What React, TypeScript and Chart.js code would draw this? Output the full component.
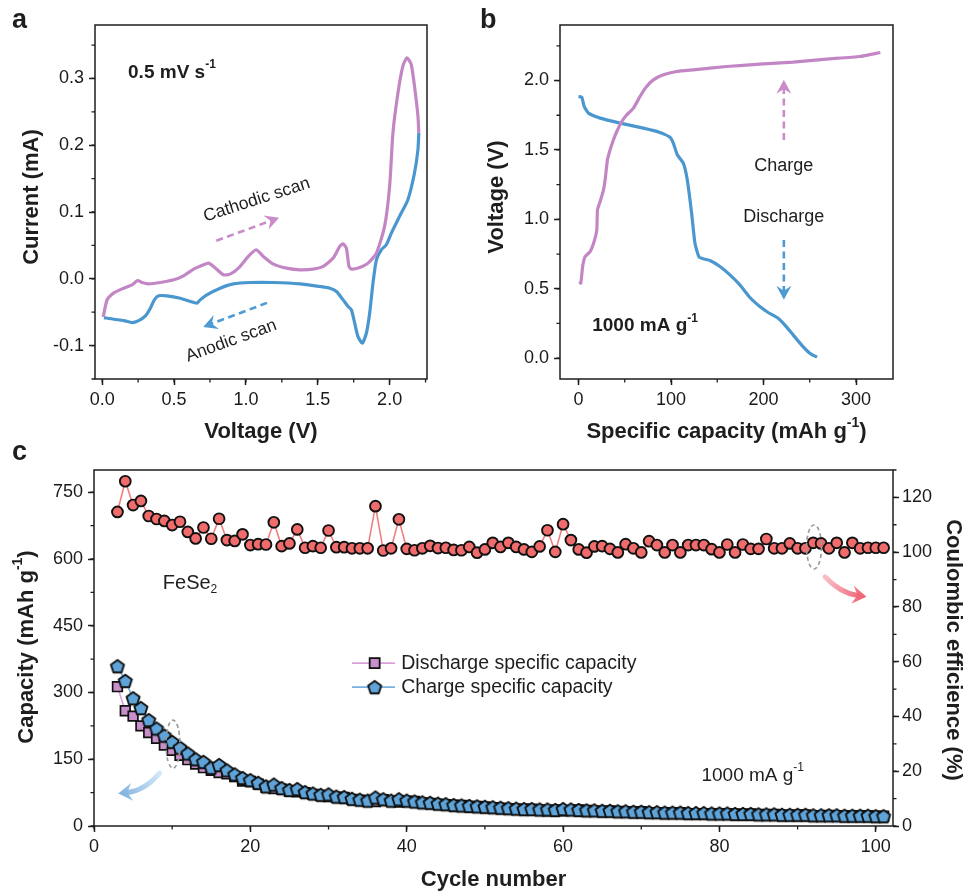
import React, { useEffect, useRef } from 'react';
import { Chart, registerables } from 'chart.js';

Chart.register(...registerables);

const FONT = "'Liberation Sans', Arial, Helvetica, sans-serif";
const INK = '#1e1e1e';
const CV_PINK = '#c386c5';
const CV_BLUE = '#4a97cf';

// ---------------- Panel a : cyclic voltammetry ----------------
const cvUpperV = [0.007, 0.035, 0.081, 0.150, 0.208, 0.247, 0.277, 0.324, 0.405, 0.497, 0.566, 0.636, 0.705, 0.740, 0.775, 0.844, 0.890, 0.948, 1.017, 1.071, 1.121, 1.191, 1.283, 1.376, 1.468, 1.538, 1.607, 1.653, 1.676, 1.699, 1.717, 1.734, 1.792, 1.850, 1.908, 1.965, 2.000, 2.023, 2.058, 2.092, 2.120, 2.150, 2.173, 2.197, 2.203];
const cvUpperI = [-0.057, -0.031, -0.021, -0.014, -0.009, -0.0025, -0.0055, -0.0075, -0.0055, -0.0015, 0.0045, 0.0145, 0.021, 0.0235, 0.0185, 0.006, 0.007, 0.016, 0.0335, 0.0435, 0.0335, 0.022, 0.016, 0.0135, 0.0145, 0.0185, 0.031, 0.0485, 0.0525, 0.046, 0.0185, 0.0145, 0.017, 0.0235, 0.0385, 0.0785, 0.1385, 0.2185, 0.2785, 0.3185, 0.331, 0.321, 0.2885, 0.2435, 0.2185];
const cvLowerV = [2.203, 2.197, 2.173, 2.127, 2.069, 2.012, 1.977, 1.942, 1.908, 1.884, 1.861, 1.838, 1.810, 1.780, 1.757, 1.734, 1.711, 1.676, 1.630, 1.584, 1.514, 1.376, 1.191, 1.029, 0.913, 0.821, 0.728, 0.682, 0.659, 0.613, 0.543, 0.451, 0.393, 0.363, 0.335, 0.301, 0.254, 0.208, 0.150, 0.081, 0.012];
const cvLowerI = [0.2185, 0.1935, 0.1585, 0.1185, 0.0935, 0.0685, 0.051, 0.0435, 0.0285, -0.0065, -0.0515, -0.0815, -0.0965, -0.0865, -0.0665, -0.0465, -0.0415, -0.0315, -0.019, -0.014, -0.0115, -0.0075, -0.0055, -0.0055, -0.0075, -0.014, -0.024, -0.0315, -0.0365, -0.034, -0.029, -0.0255, -0.0255, -0.0315, -0.044, -0.0555, -0.0625, -0.0655, -0.0625, -0.0605, -0.058];
const cvVoltageTicks = [0, 0.5, 1.0, 1.5, 2.0];
const cvCurrentTicks = [-0.1, 0, 0.1, 0.2, 0.3];

// ---------------- Panel b : charge / discharge profiles ----------------
const dischargeCap = [0, 3.6, 6.1, 10.8, 23.4, 45, 70.1, 88.1, 98.9, 102.5, 106.8, 113.3, 117.6, 122.3, 125.9, 130.6, 142.1, 152.9, 163.7, 174.5, 185.3, 196.0, 205.0, 215.8, 223.0, 232.0, 241.0, 250.0, 257.9];
const dischargeVolt = [1.885, 1.880, 1.813, 1.765, 1.729, 1.693, 1.657, 1.626, 1.592, 1.549, 1.465, 1.405, 1.285, 1.044, 0.828, 0.727, 0.703, 0.660, 0.600, 0.528, 0.437, 0.372, 0.329, 0.288, 0.240, 0.168, 0.096, 0.036, 0.007];
const chargeCap = [1.1, 2.5, 4.7, 7.2, 12.6, 16.9, 19.8, 20.5, 23.4, 27.0, 28.8, 31.3, 34.2, 37.8, 41.4, 46.8, 52.2, 59.4, 66.5, 73.0, 80.9, 91.7, 106.1, 124.1, 160.1, 196.0, 232.0, 268.0, 304.0, 326.3];
const chargeVolt = [0.552, 0.540, 0.672, 0.732, 0.768, 0.840, 0.924, 1.068, 1.128, 1.212, 1.285, 1.429, 1.501, 1.573, 1.633, 1.705, 1.753, 1.801, 1.885, 1.952, 2.005, 2.041, 2.065, 2.077, 2.101, 2.118, 2.132, 2.154, 2.173, 2.202];
const gcdCapTicks = [0, 100, 200, 300];
const gcdVoltTicks = [0, 0.5, 1.0, 1.5, 2.0];

// ---------------- Panel c : cycling ----------------
const cycles = [
  3, 4, 5, 6, 7, 8, 9, 10, 11, 12,
  13, 14, 15, 16, 17, 18, 19, 20, 21, 22,
  23, 24, 25, 26, 27, 28, 29, 30, 31, 32,
  33, 34, 35, 36, 37, 38, 39, 40, 41, 42,
  43, 44, 45, 46, 47, 48, 49, 50, 51, 52,
  53, 54, 55, 56, 57, 58, 59, 60, 61, 62,
  63, 64, 65, 66, 67, 68, 69, 70, 71, 72,
  73, 74, 75, 76, 77, 78, 79, 80, 81, 82,
  83, 84, 85, 86, 87, 88, 89, 90, 91, 92,
  93, 94, 95, 96, 97, 98, 99, 100, 101,
];
const coulombicEff = [
  114.7, 125.9, 117.2, 118.7, 113.2, 112.1, 111.4, 109.9, 111.1, 107.4,
  105.0, 109.0, 104.9, 112.2, 104.4, 104.1, 106.5, 102.6, 102.9, 102.8,
  110.9, 102.2, 103.2, 108.3, 101.6, 102.2, 101.6, 107.9, 101.8, 101.8,
  101.4, 101.4, 101.4, 116.8, 100.6, 101.4, 112.0, 101.2, 100.7, 101.4,
  102.3, 101.5, 101.6, 100.8, 100.7, 101.9, 99.8, 101.0, 103.4, 101.9,
  103.4, 101.9, 101.0, 100.1, 102.1, 108.0, 100.1, 110.2, 104.4, 101.0,
  99.8, 102.1, 102.2, 101.2, 99.9, 102.9, 101.4, 99.9, 104.0, 102.6,
  99.9, 102.6, 99.9, 102.6, 102.6, 102.6, 101.1, 99.9, 102.8, 99.9,
  102.8, 101.2, 101.2, 104.8, 101.4, 101.4, 103.2, 101.4, 101.4, 103.4,
  103.2, 101.4, 103.4, 99.9, 103.4, 101.4, 101.6, 101.6, 101.6,
];
const chargeCapacity = [
  359, 326, 287, 265, 238, 219, 203, 189, 176, 163,
  150, 144, 131, 137, 125, 116, 108, 103, 97, 89,
  93, 85, 81, 83, 76, 73, 70, 71, 66, 65,
  61, 59, 57, 64, 60, 57, 60, 57, 55, 53,
  52, 50, 49, 47, 46, 45, 44, 43, 42, 41,
  40, 39, 38, 38, 37, 37, 36, 38, 37, 36,
  35, 35, 34, 34, 33, 33, 32, 32, 31, 31,
  30, 30, 30, 29, 29, 29, 28, 28, 28, 27,
  27, 27, 26, 26, 26, 25, 25, 25, 25, 24,
  24, 24, 24, 23, 23, 23, 23, 22, 22,
];
const dischargeCapacity = [
  313, 259, 247, 225, 210, 197, 182, 170, 159, 149,
  139, 131, 125, 120, 117, 111, 101, 100, 94, 87,
  84, 83, 78, 77, 75, 71, 69, 66, 65, 64,
  60, 58, 56, 55, 59, 56, 54, 56, 55, 52,
  51, 49, 48, 47, 46, 44, 44, 43, 41, 40,
  39, 38, 38, 38, 36, 34, 36, 34, 35, 36,
  35, 34, 33, 34, 33, 32, 32, 32, 30, 30,
  30, 29, 30, 28, 28, 28, 28, 28, 27, 27,
  26, 27, 26, 25, 26, 25, 24, 25, 25, 23,
  23, 24, 23, 23, 22, 23, 23, 22, 22,
];
const cycleTicks = [0, 20, 40, 60, 80, 100];
const capacityTicks = [0, 150, 300, 450, 600, 750];
const ceTicks = [0, 20, 40, 60, 80, 100, 120];

// ---------------- helpers ----------------
type Seg = [string, string?];

function drawRich(ctx: any, segs: Seg[], x: number, y: number, o: any) {
  const size = o.size, weight = o.weight || 'normal';
  ctx.save();
  ctx.translate(x, y);
  if (o.rot) ctx.rotate(o.rot);
  const fontFor = (k?: string) => `${weight} ${k === 'sup' || k === 'sub' ? Math.round(size * 0.62) : size}px ${FONT}`;
  const widths: number[] = [];
  let total = 0;
  for (const s of segs) {
    ctx.font = fontFor(s[1]);
    const w = ctx.measureText(s[0]).width;
    widths.push(w);
    total += w;
  }
  let cx = o.align === 'center' ? -total / 2 : 0;
  ctx.textBaseline = o.baseline || 'middle';
  ctx.textAlign = 'left';
  ctx.fillStyle = o.color || INK;
  segs.forEach((s, i) => {
    ctx.font = fontFor(s[1]);
    const dy = s[1] === 'sup' ? -size * 0.4 : s[1] === 'sub' ? size * 0.3 : 0;
    ctx.fillText(s[0], cx, dy);
    cx += widths[i];
  });
  ctx.restore();
}

function drawFrame(chart: any) {
  const { ctx, chartArea: a } = chart;
  ctx.save();
  ctx.strokeStyle = INK;
  ctx.lineWidth = 1.5;
  ctx.strokeRect(a.left, a.top, a.right - a.left, a.bottom - a.top);
  ctx.restore();
}

function drawMinor(chart: any, id: string, step: number, side: string) {
  const s = chart.scales[id];
  const a = chart.chartArea;
  const ctx = chart.ctx;
  const start = Math.ceil(s.min / step - 1e-9);
  const end = Math.floor(s.max / step + 1e-9);
  ctx.save();
  ctx.strokeStyle = INK;
  ctx.lineWidth = 1.3;
  ctx.beginPath();
  for (let k = start; k <= end; k++) {
    const p = s.getPixelForValue(k * step);
    if (side === 'left') { ctx.moveTo(a.left, p); ctx.lineTo(a.left - 3.5, p); }
    if (side === 'right') { ctx.moveTo(a.right, p); ctx.lineTo(a.right + 3.5, p); }
    if (side === 'bottom') { ctx.moveTo(p, a.bottom); ctx.lineTo(p, a.bottom + 3.5); }
  }
  ctx.stroke();
  ctx.restore();
}

function arrowHead(ctx: any, x1: number, y1: number, ang: number, len: number, half: number) {
  const dx = Math.cos(ang), dy = Math.sin(ang);
  const px = -dy, py = dx;
  const hx = x1 - dx * len, hy = y1 - dy * len;
  ctx.beginPath();
  ctx.moveTo(x1, y1);
  ctx.lineTo(hx + px * half, hy + py * half);
  ctx.lineTo(x1 - dx * len * 0.65, y1 - dy * len * 0.65);
  ctx.lineTo(hx - px * half, hy - py * half);
  ctx.closePath();
  ctx.fill();
}

function dashedArrow(ctx: any, x0: number, y0: number, x1: number, y1: number, color: string) {
  const ang = Math.atan2(y1 - y0, x1 - x0);
  ctx.save();
  ctx.strokeStyle = color;
  ctx.fillStyle = color;
  ctx.lineWidth = 2.6;
  ctx.setLineDash([7, 4.5]);
  ctx.beginPath();
  ctx.moveTo(x0, y0);
  ctx.lineTo(x1 - Math.cos(ang) * 8, y1 - Math.sin(ang) * 8);
  ctx.stroke();
  ctx.setLineDash([]);
  arrowHead(ctx, x1, y1, ang, 14, 7.5);
  ctx.restore();
}

function fatArrow(ctx: any, x0: number, y0: number, cx: number, cy: number, x1: number, y1: number, c0: string, c1: string) {
  const ang = Math.atan2(y1 - cy, x1 - cx);
  const g = ctx.createLinearGradient(x0, y0, x1, y1);
  g.addColorStop(0, c0);
  g.addColorStop(1, c1);
  ctx.save();
  ctx.strokeStyle = g;
  ctx.fillStyle = g;
  ctx.lineWidth = 5;
  ctx.lineCap = 'round';
  ctx.beginPath();
  ctx.moveTo(x0, y0);
  ctx.quadraticCurveTo(cx, cy, x1 - Math.cos(ang) * 9, y1 - Math.sin(ang) * 9);
  ctx.stroke();
  arrowHead(ctx, x1, y1, ang, 14, 9);
  ctx.restore();
}

function dashedEllipse(ctx: any, x: number, y: number, rx: number, ry: number) {
  ctx.save();
  ctx.strokeStyle = '#9a9a9a';
  ctx.lineWidth = 1.6;
  ctx.setLineDash([4, 3]);
  ctx.beginPath();
  ctx.ellipse(x, y, rx, ry, 0, 0, Math.PI * 2);
  ctx.stroke();
  ctx.restore();
}

function makeAxis(o: any) {
  const horizontal = o.position === 'bottom';
  return {
    type: 'linear',
    position: o.position,
    min: o.min,
    max: o.max,
    afterBuildTicks: (s: any) => { s.ticks = o.ticks.map((v: number) => ({ value: v })); },
    afterFit: (s: any) => { if (horizontal) s.height = o.size; else s.width = o.size; },
    grid: { display: true, drawOnChartArea: false, drawTicks: true, tickLength: 6, tickWidth: 1.5, tickColor: INK },
    border: { display: false },
    ticks: {
      color: '#1a1a1a',
      font: { size: 18, family: FONT },
      padding: o.padding,
      autoSkip: false,
      maxRotation: 0,
      minRotation: 0,
      callback: o.fmt,
    },
    title: { display: false },
  };
}

const xy = (xs: number[], ys: number[]) => xs.map((v, i) => ({ x: v, y: ys[i] }));
const fix1 = (v: any) => Number(v).toFixed(1);
const plain = (v: any) => String(v);

function makePentagon() {
  const c = document.createElement('canvas');
  c.width = 18; c.height = 18;
  const g = c.getContext('2d') as any;
  const R = 6.9, cx = 9, cy = 9.6;
  g.beginPath();
  for (let k = 0; k < 5; k++) {
    const a = -Math.PI / 2 + (k * 2 * Math.PI) / 5;
    const px = cx + R * Math.cos(a), py = cy + R * Math.sin(a);
    if (k === 0) g.moveTo(px, py); else g.lineTo(px, py);
  }
  g.closePath();
  g.fillStyle = '#5ea4da';
  g.fill();
  g.lineWidth = 1.9;
  g.lineJoin = 'round';
  g.strokeStyle = '#111';
  g.stroke();
  return c;
}

const baseOptions = (padding: any, scales: any) => ({
  responsive: false,
  animation: false,
  devicePixelRatio: 1,
  layout: { padding },
  plugins: { legend: { display: false }, tooltip: { enabled: false } },
  scales,
});

// ---------------- configs ----------------
function configA(): any {
  const decor = {
    id: 'decorA',
    afterDraw(chart: any) {
      const { ctx, chartArea: a } = chart;
      const X = chart.scales.x, Y = chart.scales.y;
      drawFrame(chart);
      drawMinor(chart, 'x', 0.25, 'bottom');
      drawMinor(chart, 'y', 0.05, 'left');
      drawRich(ctx, [['Voltage (V)']], (a.left + a.right) / 2, a.bottom + 53, { size: 22, weight: 'bold', align: 'center' });
      drawRich(ctx, [['Current (mA)']], a.left - 63, (a.top + a.bottom) / 2 - 5, { size: 22, weight: 'bold', align: 'center', rot: -Math.PI / 2 });
      drawRich(ctx, [['a']], 12, 28, { size: 27, weight: 'bold', baseline: 'alphabetic' });
      drawRich(ctx, [['0.5 mV s'], ['-1', 'sup']], X.getPixelForValue(0.18), Y.getPixelForValue(0.309), { size: 19, weight: 'bold' });
      drawRich(ctx, [['Cathodic scan']], X.getPixelForValue(1.075), Y.getPixelForValue(0.118), { size: 17.5, align: 'center', rot: -18 * Math.PI / 180 });
      drawRich(ctx, [['Anodic scan']], X.getPixelForValue(0.897), Y.getPixelForValue(-0.093), { size: 17.5, align: 'center', rot: -20 * Math.PI / 180 });
      dashedArrow(ctx, X.getPixelForValue(0.794), Y.getPixelForValue(0.057), X.getPixelForValue(1.231), Y.getPixelForValue(0.0915), '#c98cc9');
      dashedArrow(ctx, X.getPixelForValue(1.147), Y.getPixelForValue(-0.036), X.getPixelForValue(0.703), Y.getPixelForValue(-0.072), '#4e9ad2');
    },
  };
  return {
    type: 'scatter',
    data: {
      datasets: [
        { label: 'Cathodic scan', data: xy(cvUpperV, cvUpperI), showLine: true, borderColor: CV_PINK, borderWidth: 3.2, pointRadius: 0, tension: 0.2 },
        { label: 'Anodic scan', data: xy(cvLowerV, cvLowerI), showLine: true, borderColor: CV_BLUE, borderWidth: 3.2, pointRadius: 0, tension: 0.2 },
      ],
    },
    options: baseOptions({ left: 0, right: 33, top: 25, bottom: 0 }, {
      x: makeAxis({ position: 'bottom', min: -0.05, max: 2.26, ticks: cvVoltageTicks, size: 71, padding: 4, fmt: fix1 }),
      y: makeAxis({ position: 'left', min: -0.15, max: 0.38, ticks: cvCurrentTicks, size: 95, padding: 5, fmt: fix1 }),
    }),
    plugins: [decor],
  };
}

function configB(): any {
  const decor = {
    id: 'decorB',
    afterDraw(chart: any) {
      const { ctx, chartArea: a } = chart;
      const X = chart.scales.x, Y = chart.scales.y;
      drawFrame(chart);
      drawMinor(chart, 'x', 50, 'bottom');
      drawMinor(chart, 'y', 0.25, 'left');
      drawRich(ctx, [['Specific capacity (mAh g'], ['-1', 'sup'], [')']], (a.left + a.right) / 2, a.bottom + 53, { size: 22, weight: 'bold', align: 'center' });
      drawRich(ctx, [['Voltage (V)']], a.left - 63, (a.top + a.bottom) / 2 - 5, { size: 22, weight: 'bold', align: 'center', rot: -Math.PI / 2 });
      drawRich(ctx, [['b']], 20, 28, { size: 27, weight: 'bold', baseline: 'alphabetic' });
      drawRich(ctx, [['Charge']], X.getPixelForValue(222), Y.getPixelForValue(1.386), { size: 18, align: 'center' });
      drawRich(ctx, [['Discharge']], X.getPixelForValue(222), Y.getPixelForValue(1.018), { size: 18, align: 'center' });
      drawRich(ctx, [['1000 mA g'], ['-1', 'sup']], X.getPixelForValue(14.8), Y.getPixelForValue(0.233), { size: 19, weight: 'bold' });
      dashedArrow(ctx, X.getPixelForValue(222), Y.getPixelForValue(1.572), X.getPixelForValue(222), Y.getPixelForValue(2.005), '#c98cc9');
      dashedArrow(ctx, X.getPixelForValue(222), Y.getPixelForValue(0.852), X.getPixelForValue(222), Y.getPixelForValue(0.42), '#4e9ad2');
    },
  };
  return {
    type: 'scatter',
    data: {
      datasets: [
        { label: 'Charge', data: xy(chargeCap, chargeVolt), showLine: true, borderColor: CV_PINK, borderWidth: 3.2, pointRadius: 0, tension: 0.15 },
        { label: 'Discharge', data: xy(dischargeCap, dischargeVolt), showLine: true, borderColor: CV_BLUE, borderWidth: 3.2, pointRadius: 0, tension: 0.15 },
      ],
    },
    options: baseOptions({ left: 0, right: 77, top: 25, bottom: 0 }, {
      x: makeAxis({ position: 'bottom', min: -20, max: 340, ticks: gcdCapTicks, size: 71, padding: 4, fmt: plain }),
      y: makeAxis({ position: 'left', min: -0.15, max: 2.4, ticks: gcdVoltTicks, size: 100, padding: 5, fmt: fix1 }),
    }),
    plugins: [decor],
  };
}

function configC(pent: any): any {
  const decor = {
    id: 'decorC',
    afterDraw(chart: any) {
      const { ctx, chartArea: a } = chart;
      const X = chart.scales.x, Y = chart.scales.y;
      drawFrame(chart);
      drawMinor(chart, 'x', 10, 'bottom');
      drawMinor(chart, 'y', 75, 'left');
      drawMinor(chart, 'y1', 10, 'right');
      drawRich(ctx, [['Cycle number']], (a.left + a.right) / 2, a.bottom + 54, { size: 22, weight: 'bold', align: 'center' });
      drawRich(ctx, [['Capacity (mAh g'], ['-1', 'sup'], [')']], a.left - 67, (a.top + a.bottom) / 2 - 1, { size: 22, weight: 'bold', align: 'center', rot: -Math.PI / 2 });
      drawRich(ctx, [['Coulombic efficience (%)']], a.right + 60, (a.top + a.bottom) / 2 + 2, { size: 22, weight: 'bold', align: 'center', rot: Math.PI / 2 });
      drawRich(ctx, [['c']], 12, 20, { size: 27, weight: 'bold', baseline: 'alphabetic' });
      drawRich(ctx, [['FeSe'], ['2', 'sub']], X.getPixelForValue(8.8), Y.getPixelForValue(544), { size: 20 });
      drawRich(ctx, [['1000 mA g'], ['-1', 'sup']], X.getPixelForValue(77.7), Y.getPixelForValue(114), { size: 19 });

      // legend
      const lx0 = X.getPixelForValue(33), lx1 = X.getPixelForValue(38.5), lm = X.getPixelForValue(35.9), lt = X.getPixelForValue(39.3);
      const r1 = Y.getPixelForValue(366), r2 = Y.getPixelForValue(312);
      ctx.save();
      ctx.lineWidth = 1.6;
      ctx.strokeStyle = '#d9a3da';
      ctx.beginPath(); ctx.moveTo(lx0, r1); ctx.lineTo(lx1, r1); ctx.stroke();
      ctx.strokeStyle = '#74b0e0';
      ctx.beginPath(); ctx.moveTo(lx0, r2); ctx.lineTo(lx1, r2); ctx.stroke();
      ctx.fillStyle = '#c98fcb';
      ctx.fillRect(lm - 5, r1 - 5, 10, 10);
      ctx.strokeStyle = '#111';
      ctx.lineWidth = 1.8;
      ctx.strokeRect(lm - 5, r1 - 5, 10, 10);
      ctx.drawImage(pent, lm - pent.width / 2, r2 - pent.height / 2);
      ctx.restore();
      drawRich(ctx, [['Discharge specific capacity']], lt, r1, { size: 19.5 });
      drawRich(ctx, [['Charge specific capacity']], lt, r2, { size: 19.5 });

      // guide marks
      dashedEllipse(ctx, X.getPixelForValue(10.1), Y.getPixelForValue(184), 7, 24);
      dashedEllipse(ctx, X.getPixelForValue(92.1), Y.getPixelForValue(627), 7.5, 22);
      fatArrow(ctx, X.getPixelForValue(8.4), Y.getPixelForValue(119), X.getPixelForValue(6.5), Y.getPixelForValue(80),
        X.getPixelForValue(3.1), Y.getPixelForValue(73), 'rgba(205,228,246,0.9)', 'rgba(120,172,220,0.95)');
      fatArrow(ctx, X.getPixelForValue(93.5), Y.getPixelForValue(560), X.getPixelForValue(95.4), Y.getPixelForValue(524),
        X.getPixelForValue(98.8), Y.getPixelForValue(515), 'rgba(248,185,195,0.9)', 'rgba(238,84,104,0.95)');
    },
  };
  return {
    type: 'scatter',
    data: {
      datasets: [
        {
          label: 'Coulombic efficiency', data: xy(cycles, coulombicEff), yAxisID: 'y1', order: 0, showLine: true,
          borderColor: '#f08080', borderWidth: 1.6, pointStyle: 'circle', pointRadius: 5.4,
          pointBackgroundColor: '#f06b6b', pointBorderColor: '#111', pointBorderWidth: 1.9,
        },
        {
          label: 'Charge specific capacity', data: xy(cycles, chargeCapacity), yAxisID: 'y', order: 1, showLine: true,
          borderColor: '#74b0e0', borderWidth: 1.6, pointStyle: pent, pointRadius: 6,
        },
        {
          label: 'Discharge specific capacity', data: xy(cycles, dischargeCapacity), yAxisID: 'y', order: 2, showLine: true,
          borderColor: '#d9a3da', borderWidth: 1.6, pointStyle: 'rect', pointRadius: 6.8,
          pointBackgroundColor: '#c98fcb', pointBorderColor: '#111', pointBorderWidth: 1.7,
        },
      ],
    },
    options: baseOptions({ left: 0, right: 0, top: 30, bottom: 0 }, {
      x: makeAxis({ position: 'bottom', min: 0, max: 102.2, ticks: cycleTicks, size: 68, padding: 4, fmt: plain }),
      y: makeAxis({ position: 'left', min: 0, max: 800, ticks: capacityTicks, size: 94, padding: 5, fmt: plain }),
      y1: makeAxis({ position: 'right', min: 0, max: 130, ticks: ceTicks, size: 77, padding: 3, fmt: plain }),
    }),
    plugins: [decor],
  };
}

export default function App() {
  const refA = useRef<HTMLCanvasElement>(null);
  const refB = useRef<HTMLCanvasElement>(null);
  const refC = useRef<HTMLCanvasElement>(null);

  useEffect(() => {
    Chart.defaults.font.family = FONT;
    const pent = makePentagon();
    const charts = [
      new Chart(refA.current as any, configA()),
      new Chart(refB.current as any, configB()),
      new Chart(refC.current as any, configC(pent)),
    ];
    return () => charts.forEach((c) => c.destroy());
  }, []);

  const abs = (left: number, top: number, width: number, height: number): any => ({ position: 'absolute', left, top, width, height });

  return (
    <div style={{ position: 'absolute', left: 0, top: 0, width: 970, height: 894, background: '#fff', overflow: 'hidden' }}>
      <canvas ref={refA} width={460} height={450} style={abs(0, 0, 460, 450)} />
      <canvas ref={refB} width={510} height={450} style={abs(460, 0, 510, 450)} />
      <canvas ref={refC} width={970} height={454} style={abs(0, 440, 970, 454)} />
    </div>
  );
}
